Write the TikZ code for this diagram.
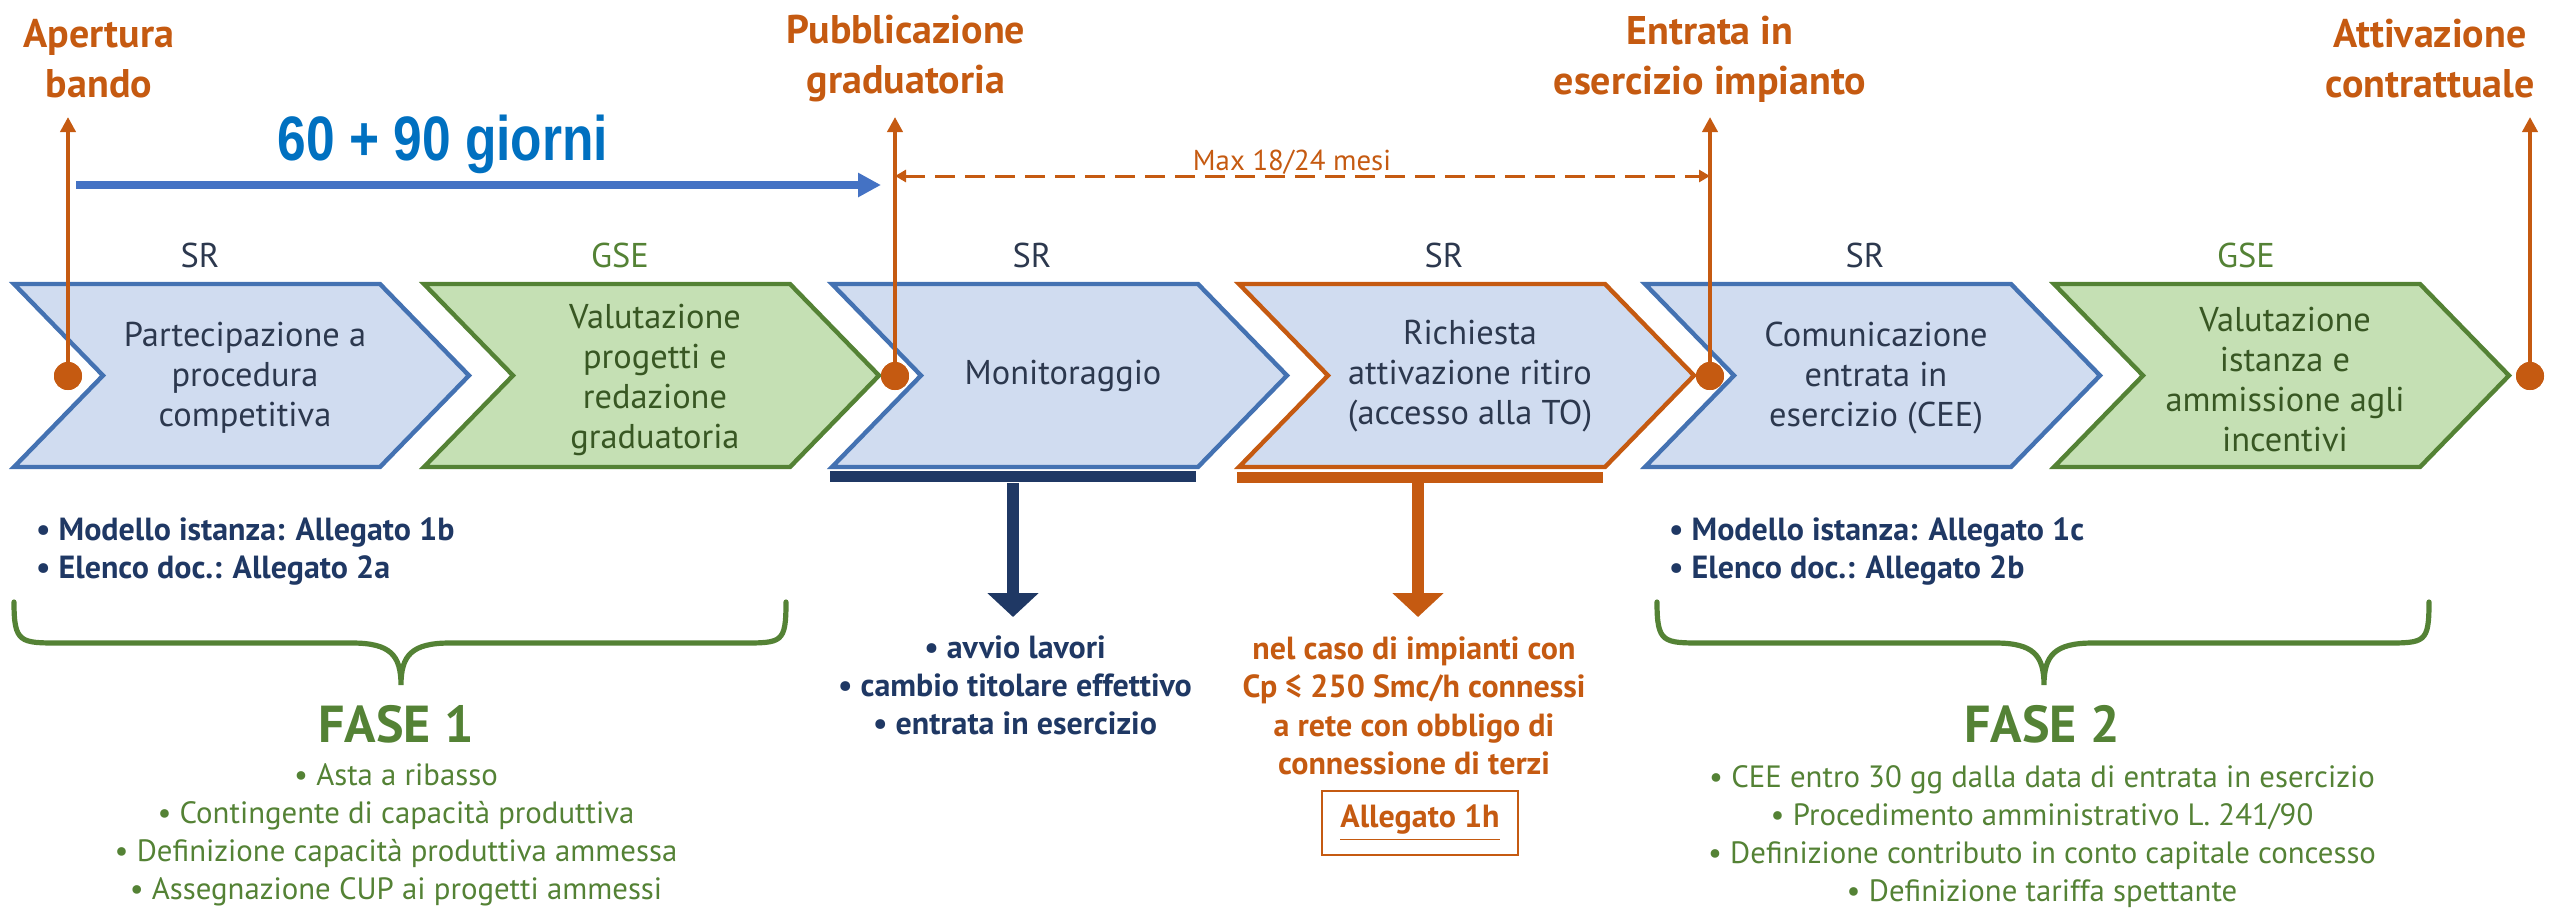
\documentclass[tikz,border=0pt]{standalone}
\usepackage{fontspec}
\setmainfont{PT Sans}
\newfontfamily\narrowfont{Liberation Sans}[FakeStretch=0.82]
\usetikzlibrary{arrows.meta}

\definecolor{accent}{RGB}{197,90,17}
\definecolor{srline}{RGB}{68,114,178}
\definecolor{srfill}{RGB}{208,220,240}
\definecolor{gseline}{RGB}{84,130,53}
\definecolor{gsefill}{RGB}{197,224,180}
\definecolor{navy}{RGB}{31,56,100}
\definecolor{ink}{RGB}{44,56,78}
\definecolor{gseink}{RGB}{56,87,35}
\definecolor{dayblue}{RGB}{0,112,192}
\definecolor{dayarrow}{RGB}{68,114,196}

\tikzset{
	sr/.style = {draw=srline, fill=srfill, line width=1.1pt, line join=miter},
	gse/.style = {draw=gseline, fill=gsefill, line width=1.1pt, line join=miter},
	ritiro/.style = {draw=accent, fill=srfill, line width=1.1pt, line join=miter},
	phase/.style = {text=ink, align=center, font=\fontsize{8.6}{10}\selectfont},
	gsephase/.style = {phase, text=gseink},
	who/.style = {anchor=base, text=ink, font=\fontsize{8.6}{10}\selectfont},
	milestone/.style = {circle, fill=accent, inner sep=0pt, minimum size=7pt},
	event/.style = {text=accent, align=center, font=\bfseries\fontsize{10}{12.5}\selectfont},
	eventline/.style = {draw=accent, line width=1pt, -{Triangle[length=3.75pt,width=3.75pt]}},
	bar/.style = {inner sep=0pt, minimum width=91.5pt, minimum height=2.75pt},
	down/.style = {line width=3pt, -{Triangle[length=6pt,width=12.5pt]}},
	docs/.style = {anchor=west, text=navy, align=left, font=\bfseries\fontsize{8}{9.5}\selectfont},
	brace/.style = {draw=gseline, line width=1.3pt, line cap=round},
	fase/.style = {anchor=base, text=gseline, font=\bfseries\fontsize{13}{15}\selectfont},
	notes/.style = {text=gseline, align=center, font=\fontsize{7.7}{9.5}\selectfont}
}

\begin{document}
\begin{tikzpicture}[x=0.25pt,y=-0.25pt]
	\useasboundingbox (0,0) rectangle (2549,911);

	\draw[sr] (14,284) -- ++(366,0) -- ++(89,91.5) -- ++(-89,91.5) -- ++(-366,0) -- ++(89,-91.5) -- cycle;
	\draw[gse] (424,284) -- ++(366,0) -- ++(89,91.5) -- ++(-89,91.5) -- ++(-366,0) -- ++(89,-91.5) -- cycle;
	\draw[sr] (832,284) -- ++(366,0) -- ++(89,91.5) -- ++(-89,91.5) -- ++(-366,0) -- ++(89,-91.5) -- cycle;
	\draw[ritiro] (1239,284) -- ++(366,0) -- ++(89,91.5) -- ++(-89,91.5) -- ++(-366,0) -- ++(89,-91.5) -- cycle;
	\draw[sr] (1645,284) -- ++(366,0) -- ++(89,91.5) -- ++(-89,91.5) -- ++(-366,0) -- ++(89,-91.5) -- cycle;
	\draw[gse] (2054,284) -- ++(366,0) -- ++(89,91.5) -- ++(-89,91.5) -- ++(-366,0) -- ++(89,-91.5) -- cycle;

	\node[phase] (partecipazione) at (245,378) {Partecipazione a\\procedura\\competitiva};
	\node[gsephase] (valutazione) at (655,380) {Valutazione\\progetti e\\redazione\\graduatoria};
	\node[phase] (monitoraggio) at (1063,376) {Monitoraggio};
	\node[phase] (richiesta) at (1470,376) {Richiesta\\attivazione ritiro\\(accesso alla TO)};
	\node[phase] (comunicazione) at (1876,378) {Comunicazione\\entrata in\\esercizio (CEE)};
	\node[gsephase] (ammissione) at (2285,380) {Valutazione\\istanza e\\ammissione agli\\incentivi};

	\node[who] (who1) at (200,267) {SR};
	\node[who, text=gseline] (who2) at (620,267) {GSE};
	\node[who] (who3) at (1032,267) {SR};
	\node[who] (who4) at (1444,267) {SR};
	\node[who] (who5) at (1865,267) {SR};
	\node[who, text=gseline] (who6) at (2246,267) {GSE};

	\node[event] (apertura) at (99,59) {Apertura\\bando};
	\node[event] (pubblicazione) at (906,59) {Pubblicazione\\graduatoria};
	\node[event] (entrata) at (1710,59) {Entrata in\\esercizio impianto};
	\node[event] (attivazione) at (2430,59) {Attivazione\\contrattuale};

	\coordinate (top1) at (68,117);
	\coordinate (top2) at (895,117);
	\coordinate (top3) at (1710,117);
	\coordinate (top4) at (2530,117);
	\node[milestone] (m1) at (68,376) {};
	\node[milestone] (m2) at (895,376) {};
	\node[milestone] (m3) at (1710,376) {};
	\node[milestone] (m4) at (2530,376) {};
	\draw[eventline] (m1.center) -- (top1);
	\draw[eventline] (m2.center) -- (top2);
	\draw[eventline] (m3.center) -- (top3);
	\draw[eventline] (m4.center) -- (top4);
	\node[milestone] at (m1) {};
	\node[milestone] at (m2) {};
	\node[milestone] at (m3) {};
	\node[milestone] at (m4) {};

	\node[anchor=base, text=dayblue, font=\narrowfont\bfseries\fontsize{15.7}{18}\selectfont] (giorni) at (443,160) {60 + 90 giorni};
	\coordinate (g0) at (76,185);
	\coordinate (g1) at (881,185);
	\draw[draw=dayarrow, line width=2pt, -{Triangle[length=5.75pt,width=5.75pt]}] (g0) -- (g1);

	\coordinate (d0) at (895,176);
	\coordinate (d1) at (1710,176);
	\draw[draw=accent, line width=0.75pt, dash pattern=on 5pt off 2.5pt, {Triangle[length=2.75pt,width=3pt]}-{Triangle[length=2.75pt,width=3pt]}] (d0) -- (d1);
	\node[anchor=base, text=accent, inner sep=1pt, font=\fontsize{7.2}{8}\selectfont] (mesi) at (1292,170) {Max 18/24 mesi};

	\node[bar, fill=navy] (bar3) at (1013,476.5) {};
	\node[bar, fill=accent] (bar4) at (1420,477) {};
	\coordinate (down3) at (1013,617);
	\coordinate (down4) at (1418,617);
	\draw[down, draw=navy, fill=navy] (bar3.south) -- (down3);
	\draw[down, draw=accent, fill=accent] (bar4.south -| down4) -- (down4);

	\node[phase, text=navy, font=\bfseries\fontsize{8}{9.5}\selectfont] (lavori) at (1015,685) {• avvio lavori\\• cambio titolare effettivo\\• entrata in esercizio};
	\node[phase, text=accent, font=\bfseries\fontsize{8}{9.6}\selectfont] (impianti) at (1414,706) {nel caso di impianti con\\Cp ≤ 250 Smc/h connessi\\a rete con obbligo di\\connessione di terzi};
	\node[draw=accent, line width=0.5pt, text=accent, minimum width=49pt, minimum height=15pt, font=\bfseries\fontsize{8}{9.5}\selectfont] (allegato) at (1420,823) {\underline{Allegato 1h}};

	\node[docs] (docs1) at (22,551) {• Modello istanza: Allegato 1b\\• Elenco doc.: Allegato 2a};
	\node[docs] (docs2) at (1655,551) {• Modello istanza: Allegato 1c\\• Elenco doc.: Allegato 2b};

	\draw[brace] (14,602) .. controls (14,643) and (20,643) .. (60,643) -- (352,643) .. controls (390,643) and (401,655) .. (401,685) .. controls (401,655) and (412,643) .. (450,643) -- (742,643) .. controls (782,643) and (786,643) .. (786,602);
	\draw[brace] (1657,602) .. controls (1657,643) and (1663,643) .. (1703,643) -- (1995,643) .. controls (2033,643) and (2044,655) .. (2044,685) .. controls (2044,655) and (2055,643) .. (2093,643) -- (2385,643) .. controls (2425,643) and (2429,643) .. (2429,602);

	\node[fase] (fase1) at (396,742) {FASE 1};
	\node[fase] (fase2) at (2042,742) {FASE 2};
	\node[notes] (notes1) at (396,835) {• Asta a ribasso\\• Contingente di capacità produttiva\\• Definizione capacità produttiva ammessa\\• Assegnazione CUP ai progetti ammessi};
	\node[notes] (notes2) at (2042,837) {• CEE entro 30 gg dalla data di entrata in esercizio\\• Procedimento amministrativo L. 241/90\\• Definizione contributo in conto capitale concesso\\• Definizione tariffa spettante};
\end{tikzpicture}
\end{document}
